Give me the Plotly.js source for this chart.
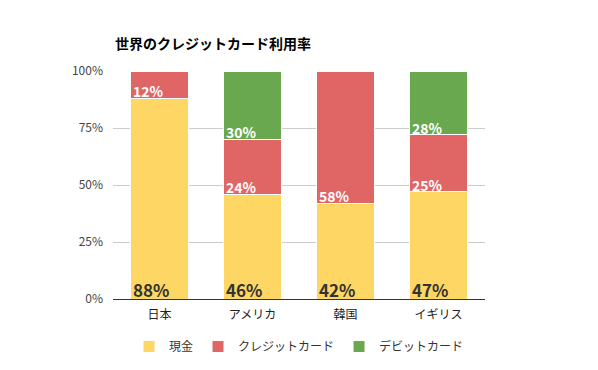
<!DOCTYPE html>
<html><head><meta charset="utf-8">
<script src="https://cdn.plot.ly/plotly-3.0.1.min.js"></script>
<style>body{margin:0;background:#fff}</style>
</head><body><div id="chart" style="width:598px;height:370px"></div>
<script>
const categories = ['日本', 'アメリカ', '韓国', 'イギリス'];
const cash = [88, 46, 42, 47];
const credit = [12, 24, 58, 25];
const debit = [0, 30, 0, 28];
const seriesNames = ['現金', 'クレジットカード', 'デビットカード'];
const colors = ['#FDD663', '#E06666', '#6AA84F'];
const font = '"Noto Sans CJK JP", "Noto Sans", sans-serif';

const series = [cash, credit, debit];
const traces = series.map((vals, i) => ({
  type: 'bar', x: categories, y: vals, name: seriesNames[i],
  marker: {color: colors[i], line: {color: '#ffffff', width: 1}},
  hoverinfo: 'none'
}));

const annotations = [];
categories.forEach((c, ci) => {
  let base = 0;
  series.forEach((vals, si) => {
    const v = vals[ci];
    if (v > 0) {
      annotations.push({
        x: c, y: base, xref: 'x', yref: 'y', showarrow: false,
        text: '<b>' + v + '%</b>', xanchor: 'left', yanchor: 'bottom',
        xshift: -29, yshift: -5,
        font: {family: font, size: si === 0 ? 17 : 14, color: si === 0 ? '#333333' : '#ffffff'}
      });
    }
    base += v;
  });
});
annotations.push({
  xref: 'paper', yref: 'paper', x: 0.0, y: 1.072, xanchor: 'left', yanchor: 'bottom',
  showarrow: false, text: '<b>世界のクレジットカード利用率</b>',
  font: {family: font, size: 14, color: '#000'}
});

const layout = {
  width: 598, height: 370,
  margin: {l: 113, r: 113, t: 71, b: 71, autoexpand: false},
  barmode: 'stack', bargap: 0.385,
  paper_bgcolor: '#fff', plot_bgcolor: '#fff',
  font: {family: font, size: 12, color: '#444'},
  xaxis: {showgrid: false, showline: true, linecolor: '#333', linewidth: 1,
    tickfont: {size: 12, color: '#222'}, ticks: '', ticklabelstandoff: 5, fixedrange: true},
  yaxis: {range: [0, 100], dtick: 25, ticksuffix: '%', gridcolor: '#cccccc',
    zeroline: false, tickfont: {size: 12, color: '#444'}, ticks: '', ticklabelstandoff: 9, fixedrange: true},
  legend: {orientation: 'h', traceorder: 'normal', x: 0.5, xanchor: 'center', y: -0.145, yanchor: 'top',
    itemwidth: 30, font: {size: 12, color: '#333'}, itemclick: false},
  annotations: annotations,
  showlegend: true
};
Plotly.newPlot('chart', traces, layout, {displayModeBar: false, staticPlot: true});
</script></body></html>
